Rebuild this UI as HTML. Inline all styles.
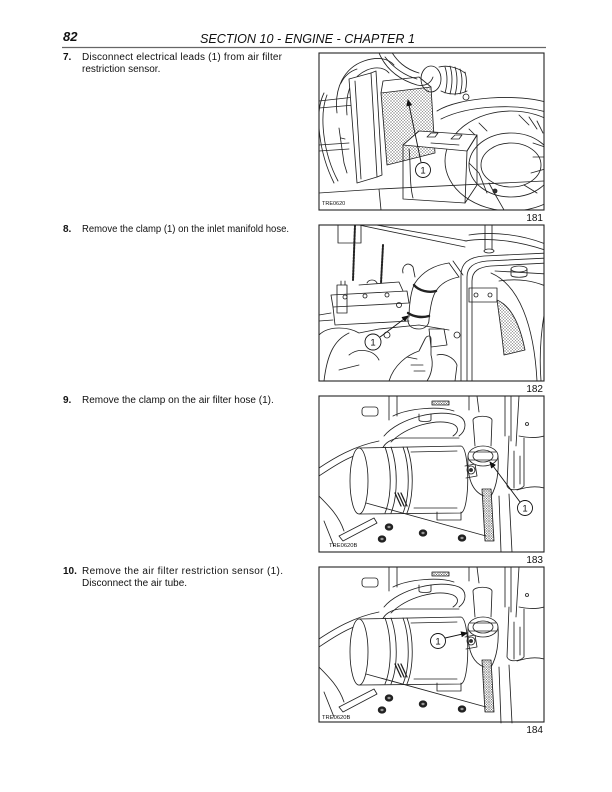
<!DOCTYPE html>
<html>
<head>
<meta charset="utf-8">
<style>
  html,body{margin:0;padding:0;background:#fff;}
  body{width:612px;height:792px;position:relative;overflow:hidden;}
  svg{position:absolute;left:0;top:0;}
  text{font-family:"Liberation Sans",Arial,sans-serif;fill:#111;}
  .d{fill:none;stroke:#222;stroke-width:0.85;stroke-linejoin:round;stroke-linecap:round;}
</style>
</head>
<body>
<svg width="612" height="792" viewBox="0 0 612 792" xmlns="http://www.w3.org/2000/svg">
<defs>
  <pattern id="mesh" width="3" height="3" patternUnits="userSpaceOnUse">
    <path d="M0,0 L3,3 M3,0 L0,3" stroke="#777" stroke-width="0.4"/>
  </pattern>
  <pattern id="mesh2" width="2.5" height="2.5" patternUnits="userSpaceOnUse">
    <path d="M0,0 L2.5,2.5 M2.5,0 L0,2.5" stroke="#555" stroke-width="0.45"/>
  </pattern>
  <clipPath id="c"><rect x="0" y="0" width="225" height="157"/></clipPath>
  <marker id="ah" markerWidth="7" markerHeight="6" refX="6" refY="3" orient="auto" markerUnits="userSpaceOnUse">
    <path d="M0,0 L7,3 L0,6 Z" fill="#111"/>
  </marker>
  <g id="filt" class="d">
    <rect x="43" y="11" width="16" height="9" rx="3"/>
    <path d="M70,0 L70,24 M78,0 L78,20 M186,0 L186,40 M192,0 L192,45 M200,0 L197,50 M150,0 L150,14 M158,0 L160,16"/>
    <rect x="113" y="5" width="17" height="4" fill="url(#mesh2)"/>
    <path d="M65,40 C80,22 120,12 140,20 C148,24 148,34 140,40"/>
    <path d="M72,46 C88,30 118,22 134,28 C140,31 140,36 134,40"/>
    <path d="M62,60 C62,50 68,44 80,42 L140,42"/>
    <path d="M74,20 C90,12 120,10 135,15"/>
    <path d="M100,18 L100,24 C100,26 112,26 112,24 L112,18"/>
    <path d="M0,72 C15,62 35,50 60,45 M0,80 C15,70 35,56 62,52"/>
    <path d="M40,52 L142,50 C151,52 151,114 142,117 L40,118" fill="#fff"/>
    <ellipse cx="40" cy="85" rx="9" ry="33" fill="#fff"/>
    <path d="M66,51 C73,70 73,100 66,117 M72,51 C79,70 79,100 72,117 M84,51 C91,70 91,100 84,117 M88,51 C95,70 95,100 88,117"/>
    <path d="M92,56 L138,55 M95,112 L138,112"/>
    <path d="M76,97 L82,110 M79,97 L85,110 M82,97 L88,110" stroke-width="1.3"/>
    <circle cx="152" cy="74" r="4"/>
    <circle cx="152" cy="74" r="1.5" fill="#333"/>
    <path d="M146,70 L156,68 L158,80 L147,82"/>
    <ellipse cx="164" cy="60" rx="15" ry="10" fill="#fff"/>
    <ellipse cx="164" cy="60" rx="10" ry="6"/>
    <path d="M151,56 L177,56 M150,64 L178,64"/>
    <path d="M149,60 C148,80 152,95 165,100 M179,60 C180,75 178,90 172,100"/>
    <path d="M156,50 L154,24 C155,19 172,19 173,24 L172,50"/>
    <path d="M118,116 L118,124 L142,124 L142,116"/>
    <path d="M190,40 L188,90 C190,95 200,95 205,90 L205,42"/>
    <path d="M195,55 L195,92 M201,60 L201,88"/>
    <circle cx="208" cy="28" r="1.5"/>
    <path d="M200,40 C210,42 218,42 225,40 M198,94 C210,90 218,90 225,92"/>
    <path d="M20,140 L55,122 L58,127 L24,145 Z"/>
    <path d="M47,107 L167,140"/>
    <path d="M0,100 C10,110 20,120 25,135 M5,125 L15,150"/>
    <path d="M163,93 L172,93 L175,145 L166,145 Z" fill="url(#mesh2)"/>
    <path d="M180,100 L182,156 M190,98 L193,156"/>
    <ellipse cx="70" cy="131" rx="3.8" ry="3.2" fill="#222"/>
    <ellipse cx="63" cy="143" rx="3.8" ry="3.2" fill="#222"/>
    <ellipse cx="104" cy="137" rx="3.8" ry="3.2" fill="#222"/>
    <ellipse cx="143" cy="142" rx="3.8" ry="3.2" fill="#222"/>
    <ellipse cx="70" cy="131" rx="1.6" ry="1.2" fill="#999" stroke="none"/>
    <ellipse cx="63" cy="143" rx="1.6" ry="1.2" fill="#999" stroke="none"/>
    <ellipse cx="104" cy="137" rx="1.6" ry="1.2" fill="#999" stroke="none"/>
    <ellipse cx="143" cy="142" rx="1.6" ry="1.2" fill="#999" stroke="none"/>
  </g>
</defs>

<!-- Header -->
<text x="63" y="41" font-size="13" font-weight="bold" font-style="italic">82</text>
<text x="200" y="43" font-size="12.6" font-style="italic" textLength="215" lengthAdjust="spacingAndGlyphs">SECTION 10 - ENGINE - CHAPTER 1</text>
<line x1="62" y1="47.5" x2="546" y2="47.5" stroke="#666" stroke-width="1.3"/>

<!-- Left column text -->
<text x="63" y="60" font-size="10" font-weight="bold">7.</text>
<text x="82" y="60" font-size="10" textLength="200" lengthAdjust="spacing">Disconnect electrical leads (1) from air filter</text>
<text x="82" y="72" font-size="10">restriction sensor.</text>

<text x="63" y="232" font-size="10" font-weight="bold">8.</text>
<text x="82" y="232" font-size="10" textLength="207" lengthAdjust="spacingAndGlyphs">Remove the clamp (1) on the inlet manifold hose.</text>

<text x="63" y="403" font-size="10" font-weight="bold">9.</text>
<text x="82" y="403" font-size="10">Remove the clamp on the air filter hose (1).</text>

<text x="63" y="574" font-size="10" font-weight="bold">10.</text>
<text x="82" y="574" font-size="10" textLength="201" lengthAdjust="spacing">Remove the air filter restriction sensor (1).</text>
<text x="82" y="586" font-size="10">Disconnect the air tube.</text>

<!-- Box 1 -->
<g transform="translate(319,53)">
  <g clip-path="url(#c)" class="d">
    <path d="M0,48 L36,44 M0,55 L36,52 M0,92 L30,90 M0,98 L30,96"/>
    <path d="M5,40 C-5,60 0,100 15,130 M8,42 C0,62 4,100 19,128"/>
    <path d="M20,75 L25,110 L28,120 M22,85 L26,86"/>
    <path d="M18,60 C15,35 25,15 45,8 C60,3 70,6 75,12"/>
    <path d="M28,62 C26,40 32,24 48,17 C58,13 66,15 70,20"/>
    <path d="M22,30 C26,22 32,18 38,16"/>
    <path d="M60,0 C66,14 78,26 98,32 C106,34 112,30 114,24"/>
    <path d="M72,-2 C78,8 86,16 100,20"/>
    <path d="M66,4 C74,14 84,22 98,26"/>
    <ellipse cx="112" cy="26" rx="10" ry="13"/>
    <path d="M120,14 C128,12 138,14 146,20 M122,38 C130,42 140,42 148,38"/>
    <path d="M126,14 q4,12 0,26 M131,13 q4,13 0,28 M136,14 q4,13 0,28 M141,16 q4,12 0,25 M146,19 q3,10 0,20"/>
    <circle cx="147" cy="44" r="3"/>
    <path d="M62,40 L112,34 L116,100 L68,112 Z" fill="url(#mesh)"/>
    <path d="M62,40 L64,28 L100,24 L112,34"/>
    <path d="M30,26 L52,20 L58,124 L38,130 Z" fill="#fff"/>
    <path d="M36,28 L42,126 M52,20 L57,18 L63,122 L58,124"/>
    <path d="M118,58 C140,44 200,40 230,50"/>
    <path d="M122,66 C150,52 200,50 230,60"/>
    <ellipse cx="192" cy="108" rx="66" ry="50"/>
    <ellipse cx="192" cy="112" rx="42" ry="32"/>
    <ellipse cx="192" cy="112" rx="30" ry="22"/>
    <path d="M200,62 L210,72 M210,64 L218,76 M218,68 L224,80 M214,90 L226,94 M214,104 L226,104 M212,120 L226,116 M205,132 L218,140 M160,70 L168,78 M150,76 L158,84"/>
    <path d="M84,92 L100,78 L158,82 L148,98 Z" fill="#fff"/>
    <path d="M84,92 L84,146 L146,150 L148,98"/>
    <path d="M148,98 L158,82 L158,132 L146,150"/>
    <path d="M108,84 l4,-4 l7,0 l-3,4 z M132,86 l4,-4 l7,0 l-3,4 z M112,90 L140,92"/>
    <path d="M90,96 C92,110 90,130 94,145 M150,110 L160,120 L168,140"/>
    <path d="M0,140 L60,136 L225,128 M60,136 L62,157"/>
    <path d="M170,130 C175,140 180,148 185,157"/>
    <circle cx="176" cy="138" r="2" fill="#333"/>
  </g>
  <line x1="102" y1="109" x2="89" y2="47" stroke="#111" stroke-width="0.9" marker-end="url(#ah)"/>
  <circle cx="104" cy="117" r="7.5" fill="#fff" stroke="#111" stroke-width="0.9"/>
  <text x="104" y="120.5" font-size="9.5" text-anchor="middle">1</text>
  <rect x="2" y="146" width="28" height="8" fill="#fff"/>
  <text x="3" y="152" font-size="5.5">TRE0620</text>
  <rect x="0" y="0" width="225" height="157" fill="none" stroke="#222" stroke-width="1.1"/>
</g>
<text x="543" y="221" font-size="10" text-anchor="end">181</text>

<!-- Box 2 -->
<g transform="translate(319,225)">
  <g clip-path="url(#c)" class="d">
    <path d="M19,0 L19,18 L42,18 L42,0"/>
    <path d="M40,0 L146,22 M46,-2 L148,16"/>
    <path d="M36,0 L34,55" stroke-dasharray="2,1.2" stroke-width="2"/>
    <path d="M64,20 L62,58" stroke-dasharray="2,1.2" stroke-width="2"/>
    <path d="M142,156 L142,50 C142,38 150,32 165,31 L229,28"/>
    <path d="M148,156 L148,52 C148,42 155,37 168,36 L229,33"/>
    <path d="M153,156 L153,56 C153,46 160,42 172,41 L229,38"/>
    <path d="M146,16 C170,12 200,16 229,26 M150,10 C175,6 205,10 229,20"/>
    <path d="M166,0 L166,24 M173,0 L173,24"/>
    <ellipse cx="170" cy="26" rx="5" ry="2"/>
    <path d="M192,44 L192,50 C192,53 208,53 208,50 L208,44"/>
    <ellipse cx="200" cy="44" rx="8" ry="3"/>
    <path d="M176,46 L229,49 M180,56 C200,53 215,56 229,62"/>
    <rect x="150" y="63" width="28" height="14"/>
    <circle cx="157" cy="70" r="2"/>
    <circle cx="171" cy="70" r="2"/>
    <path d="M178,75 C190,80 200,95 206,125 L185,130 C183,110 180,90 178,75Z" fill="url(#mesh)"/>
    <path d="M172,48 C200,60 215,100 218,156"/>
    <path d="M229,70 C222,100 220,130 222,156"/>
    <path d="M90,92 C90,80 92,65 96,58 C104,46 116,40 130,38" fill="none"/>
    <path d="M110,95 C111,84 113,72 117,66 C122,58 130,54 140,52"/>
    <path d="M130,38 L140,52 M134,36 L144,50"/>
    <path d="M95,60 C100,66 110,68 117,66" stroke-width="2.4"/>
    <path d="M89,88 C95,92 103,93 110,91" stroke-width="2.4"/>
    <path d="M89,92 C88,100 92,104 100,104 C106,104 110,100 110,95"/>
    <path d="M84,48 C82,40 90,36 94,42 L96,52"/>
    <path d="M12,70 L88,66 L90,78 L14,82 Z"/>
    <path d="M14,82 L16,100 L90,96"/>
    <path d="M40,60 L80,57 L84,66 M48,58 C50,54 56,54 58,58"/>
    <circle cx="26" cy="72" r="2"/>
    <circle cx="46" cy="71" r="2"/>
    <circle cx="68" cy="70" r="2"/>
    <circle cx="80" cy="80" r="2.5"/>
    <rect x="18" y="60" width="10" height="28"/>
    <path d="M22,56 L22,60 M26,56 L26,60"/>
    <path d="M0,110 C10,100 30,102 40,108 L60,104 L100,100 L130,105"/>
    <path d="M5,156 C8,130 15,115 30,108"/>
    <path d="M30,130 C40,122 55,125 60,135 M20,145 L40,140"/>
    <path d="M0,90 L12,88 M0,96 L14,95"/>
    <circle cx="68" cy="110" r="3"/>
    <path d="M70,156 C75,140 88,130 100,126 L106,114 C108,110 112,110 112,114 L112,130 C115,140 112,150 108,156" fill="#fff"/>
    <path d="M88,132 L98,134 M92,140 L104,140 M95,146 L106,146"/>
    <path d="M110,104 L125,104 L128,120 L112,122 Z"/>
    <circle cx="138" cy="110" r="3"/>
    <path d="M118,130 C125,128 135,132 138,140 L136,156"/>
  </g>
  <line x1="61" y1="112" x2="89" y2="91" stroke="#111" stroke-width="0.9" marker-end="url(#ah)"/>
  <circle cx="54" cy="117" r="8" fill="#fff" stroke="#111" stroke-width="0.9"/>
  <text x="54" y="120.5" font-size="9.5" text-anchor="middle">1</text>
  <rect x="0" y="0" width="225" height="156" fill="none" stroke="#222" stroke-width="1.1"/>
</g>
<text x="543" y="392" font-size="10" text-anchor="end">182</text>

<!-- Box 3 -->
<g transform="translate(319,396)">
  <g clip-path="url(#c)"><use href="#filt"/></g>
  <line x1="201" y1="106" x2="171" y2="66" stroke="#111" stroke-width="0.9" marker-end="url(#ah)"/>
  <circle cx="206" cy="112" r="7.5" fill="#fff" stroke="#111" stroke-width="0.9"/>
  <text x="206" y="115.5" font-size="9.5" text-anchor="middle">1</text>
  <text x="10" y="151" font-size="5.8">TRE0620B</text>
  <rect x="0" y="0" width="225" height="156" fill="none" stroke="#222" stroke-width="1.1"/>
</g>
<text x="543" y="563" font-size="10" text-anchor="end">183</text>

<!-- Box 4 -->
<g transform="translate(319,567)">
  <g clip-path="url(#c)"><use href="#filt"/></g>
  <line x1="126" y1="71" x2="148" y2="66" stroke="#111" stroke-width="0.9" marker-end="url(#ah)"/>
  <circle cx="119" cy="74" r="7.5" fill="#fff" stroke="#111" stroke-width="0.9"/>
  <text x="119" y="77.5" font-size="9.5" text-anchor="middle">1</text>
  <text x="3" y="152" font-size="5.8">TRE0620B</text>
  <rect x="0" y="0" width="225" height="155" fill="none" stroke="#222" stroke-width="1.1"/>
</g>
<text x="543" y="733" font-size="10" text-anchor="end">184</text>
</svg>
</body>
</html>
